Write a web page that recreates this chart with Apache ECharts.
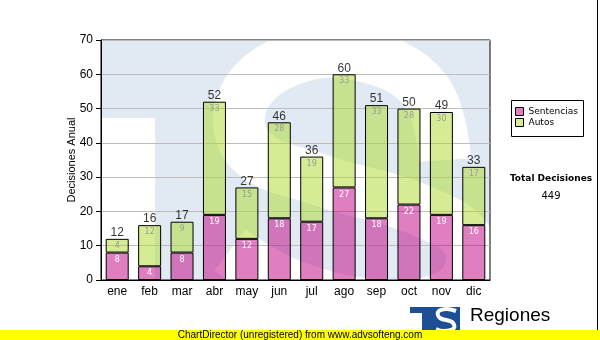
<!DOCTYPE html>
<html>
<head>
<meta charset="utf-8">
<script src="https://cdn.jsdelivr.net/npm/echarts@6/dist/echarts.min.js"></script>
<style>
  html, body { margin: 0; padding: 0; background: #fff; }
  #chart { width: 600px; height: 340px; }
</style>
</head>
<body>
<div id="chart"></div>
<script>
// Monthly decisions, split by type
const months = ['ene', 'feb', 'mar', 'abr', 'may', 'jun', 'jul', 'ago', 'sep', 'oct', 'nov', 'dic'];
const sentencias = [8, 4, 8, 19, 12, 18, 17, 27, 18, 22, 19, 16];
const autos = [4, 12, 9, 33, 15, 28, 19, 33, 33, 28, 30, 17];
const yMin = 0, yMax = 70, yStep = 10;

const totals = months.map((_, i) => sentencias[i] + autos[i]);
const grandTotal = totals.reduce((a, b) => a + b, 0);

// plot rectangle
const P = { x: 101, y: 40, w: 389, h: 240 };
const WM = '#e1eaf3';

const chart = echarts.init(document.getElementById('chart'), null, { renderer: 'canvas' });

// faint "TS" emblem behind the plot
const watermark = [
  { type: 'rect', z: -10, silent: true, shape: { x: P.x, y: P.y, width: P.w, height: P.h }, style: { fill: WM } },
  { type: 'rect', z: -9, silent: true, shape: { x: P.x, y: 118, width: 54, height: P.y + P.h - 118 }, style: { fill: '#fff' } },
  { type: 'polyline', z: -9, silent: true,
    shape: { points: [[445, 160], [425, 90], [360, 55], [290, 60], [243, 100], [250, 150], [320, 180], [420, 210], [470, 245], [455, 292], [380, 305], [290, 285], [230, 250]], smooth: 0.4 },
    style: { stroke: '#fff', lineWidth: 52, fill: 'none', lineCap: 'butt', lineJoin: 'round' } },
  // keep the emblem inside the plot rectangle
  { type: 'rect', z: -8, silent: true, shape: { x: 0, y: 0, width: P.x, height: 340 }, style: { fill: '#fff' } },
  { type: 'rect', z: -8, silent: true, shape: { x: P.x + P.w, y: 0, width: 600, height: 340 }, style: { fill: '#fff' } },
  { type: 'rect', z: -8, silent: true, shape: { x: 0, y: 0, width: 600, height: P.y }, style: { fill: '#fff' } },
  { type: 'rect', z: -8, silent: true, shape: { x: 0, y: P.y + P.h, width: 600, height: 80 }, style: { fill: '#fff' } }
];

const decor = [
  // legend frame
  { type: 'rect', z: 5, silent: true, shape: { x: 511.5, y: 100.5, width: 72, height: 36 }, style: { fill: '#fff', stroke: '#000', lineWidth: 1 } },
  { type: 'text', z: 6, silent: true, style: { x: 551, y: 179, text: 'Total Decisiones', fill: '#000', font: 'bold 9px "DejaVu Sans"', textAlign: 'center', textVerticalAlign: 'middle' } },
  { type: 'text', z: 6, silent: true, style: { x: 551, y: 196, text: String(grandTotal), fill: '#000', font: '10px "DejaVu Sans"', textAlign: 'center', textVerticalAlign: 'middle' } },
  // right border line
  { type: 'rect', z: 6, silent: true, shape: { x: 597, y: 0, width: 1, height: 330 }, style: { fill: '#000' } },
  // small logo
  { type: 'rect', z: 6, silent: true, shape: { x: 410, y: 307, width: 50, height: 28 }, style: { fill: '#1d4f94' } },
  { type: 'rect', z: 7, silent: true, shape: { x: 410, y: 313, width: 12, height: 22 }, style: { fill: '#fff' } },
  { type: 'polyline', z: 7, silent: true,
    shape: { points: [[456, 311], [446, 309], [438, 312], [440, 318], [452, 322], [454, 328], [444, 331], [436, 329]], smooth: 0.4 },
    style: { stroke: '#fff', lineWidth: 4, fill: 'none' } },
  { type: 'text', z: 6, silent: true, style: { x: 470, y: 316, text: 'Regiones', fill: '#000', font: '19px "Liberation Sans"', textAlign: 'left', textVerticalAlign: 'middle' } },
  // footer band
  { type: 'rect', z: 8, silent: true, shape: { x: 0, y: 330, width: 600, height: 10 }, style: { fill: '#ffff00' } },
  { type: 'text', z: 9, silent: true, style: { x: 300, y: 335, text: 'ChartDirector (unregistered) from www.advsofteng.com', fill: '#000', font: '10px "Liberation Sans"', textAlign: 'center', textVerticalAlign: 'middle' } }
];

chart.setOption({
  animation: false,
  backgroundColor: '#fff',
  grid: { left: P.x, top: P.y, width: P.w, height: P.h, show: true, borderColor: '#000', borderWidth: 1, backgroundColor: 'rgba(0,0,0,0)' },
  legend: {
    left: 515, top: 107, orient: 'vertical', icon: 'rect', itemWidth: 8, itemHeight: 8, itemGap: 2,
    padding: 0, selectedMode: false, z: 6,
    textStyle: { fontFamily: '"DejaVu Sans"', fontSize: 9, color: '#000' },
    data: [
      { name: 'Sentencias', itemStyle: { color: '#e07fc0', borderColor: '#000', borderWidth: 1 } },
      { name: 'Autos', itemStyle: { color: '#d5ec94', borderColor: '#000', borderWidth: 1 } }
    ]
  },
  xAxis: {
    type: 'category', data: months,
    axisLine: { lineStyle: { color: '#000', width: 1 } },
    axisTick: { alignWithLabel: true, length: 4, lineStyle: { color: '#000' } },
    axisLabel: { color: '#000', fontFamily: '"Liberation Sans"', fontSize: 12, margin: 6 }
  },
  yAxis: {
    type: 'value', min: yMin, max: yMax, interval: yStep,
    name: 'Decisiones Anual', nameLocation: 'middle', nameGap: 24, nameMoveOverlap: false,
    nameTextStyle: { color: '#000', fontFamily: '"Liberation Sans"', fontSize: 11 },
    axisLine: { show: true, lineStyle: { color: '#000', width: 1 } },
    axisTick: { show: true, length: 5, lineStyle: { color: '#000' } },
    axisLabel: { color: '#000', fontFamily: '"Liberation Sans"', fontSize: 12, margin: 8 },
    splitLine: { lineStyle: { color: '#bdbdbd', width: 1 } }
  },
  series: [
    {
      name: 'Sentencias', type: 'bar', stack: 'd', data: sentencias, barWidth: 23,
      itemStyle: { color: 'rgba(193,0,130,0.5)', borderColor: '#000', borderWidth: 1 },
      label: { show: true, position: 'insideTop', distance: 3, color: '#fff', fontFamily: '"DejaVu Sans"', fontSize: 8 }
    },
    {
      name: 'Autos', type: 'bar', stack: 'd', data: autos, barWidth: 23,
      itemStyle: { color: 'rgba(171,217,41,0.5)', borderColor: '#000', borderWidth: 1 },
      label: { show: true, position: 'insideTop', distance: 3, color: '#9a9a9a', fontFamily: '"DejaVu Sans"', fontSize: 8 }
    },
    {
      name: 'Total', type: 'scatter', data: totals, symbolSize: 0, silent: true, z: 5,
      label: { show: true, position: 'top', distance: 0, color: '#000', fontFamily: '"Liberation Sans"', fontSize: 12 }
    }
  ],
  graphic: watermark.concat(decor)
});
</script>
</body>
</html>
